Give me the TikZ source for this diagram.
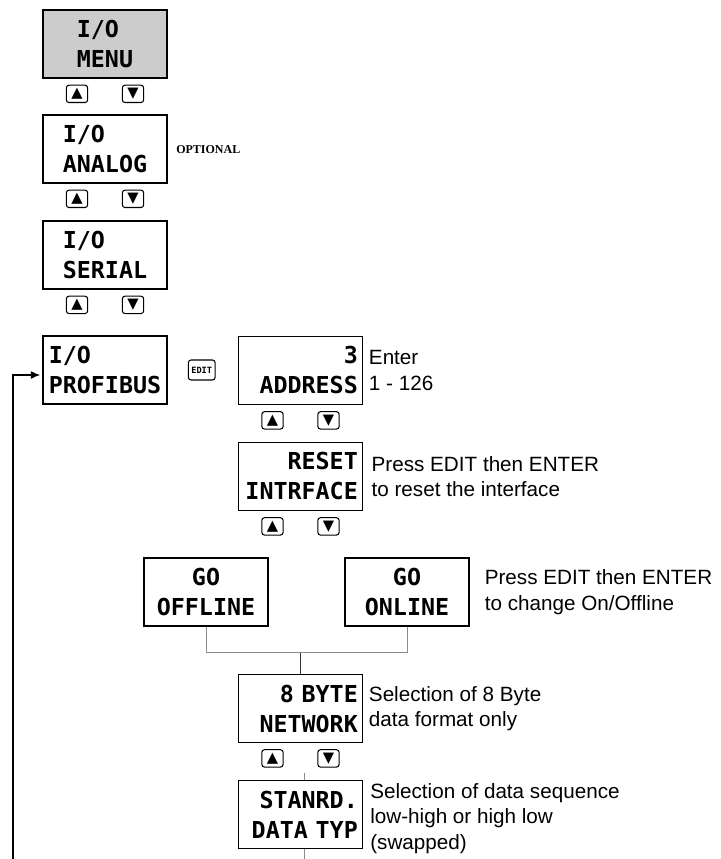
\documentclass[tikz,border=0pt]{standalone}
\usepackage{fontspec}
\usepackage{tikz}
\usetikzlibrary{
  arrows.meta,
  positioning,
  calc
}
\setmainfont{Liberation Sans}
\newfontfamily\lcdfont{DejaVu Sans Mono}
\newfontfamily\symfont{DejaVu Sans}
\newfontfamily\optfont{Liberation Serif}
\definecolor{ioMenu}{HTML}{CCCCCC}
\definecolor{ioWire}{HTML}{8C8C8C}
\tikzset{
  lcd/.style={
    draw, line width=1.3pt, minimum width=93pt, minimum height=51pt,
    inner xsep=3pt, font=\lcdfont\bfseries\fontsize{17.5}{22.5}\selectfont
  },
  lcdleft/.style={lcd, align=left},
  lcdright/.style={lcd, text width=86pt, align=right},
  lcdmid/.style={lcd, align=center},
  key/.style={
    draw, rounded corners=2pt, line width=0.8pt, minimum width=16pt,
    minimum height=13pt, inner sep=0pt, font=\symfont\fontsize{11}{11}\selectfont
  },
  editkey/.style={key, minimum width=20pt, minimum height=15pt, font=\lcdfont\bfseries\fontsize{6.5}{6.5}\selectfont},
  desc/.style={align=left, inner sep=0pt, font=\fontsize{15.5}{19}\selectfont},
  note/.style={inner sep=0pt, font=\optfont\bfseries\fontsize{9}{9}\selectfont},
  wire/.style={line width=0.6pt, ioWire},
  link/.style={line width=0.7pt, black!80},
  backline/.style={-{Latex[length=7pt,width=6pt]}, line width=0.9pt}
}
\begin{document}
\begin{tikzpicture}[x=0.75pt, y=-0.75pt]
  \useasboundingbox (0,0) rectangle (720,859);
  \node[lcdleft, fill=ioMenu] (menu) at (105,44) {I/O\\MENU};
  \node[lcdleft] (analog) at (105,149) {I/O\\ANALOG};
  \node[note, anchor=west] (optional) at (176,150) {OPTIONAL};
  \node[lcdleft] (serial) at (105,255) {I/O\\SERIAL};
  \node[lcdleft] (profibus) at (105,370) {I/O\\PROFIBUS};
  \node[editkey, right=15pt of profibus] (edit) {EDIT};
  \node[lcdright] (address) at (300.5,370.5) {3\\ADDRESS};
  \node[desc, right=4pt of address] (addressnote) {Enter\\1 - 126};
  \node[lcdright] (reset) at (300.5,476.5) {RESET\\INTRFACE};
  \node[desc, right=6pt of reset] (resetnote) {Press EDIT then ENTER\\to reset the interface};
  \node[lcdmid] (offline) at (206,592) {GO\\OFFLINE};
  \node[lcdmid] (online) at (407,592) {GO\\ONLINE};
  \node[desc, right=11pt of online] (onlinenote) {Press EDIT then ENTER\\to change On/Offline};
  \node[lcdright] (network) at (300.5,708.5) {8 BYTE\\NETWORK};
  \node[desc, right=4pt of network] (networknote) {Selection of 8 Byte\\data format only};
  \node[lcdright] (stanrd) at (300.5,814.5) {STANRD.\\DATA TYP};
  \node[desc, right=5pt of stanrd, yshift=-3pt] (stanrdnote) {Selection of data sequence\\low-high or high low\\(swapped)};

  \foreach \b in {menu,analog,serial,address,reset,network} {
    \node[key] (\b-up) at ($(\b.south)+(-28,15)$) {▲};
    \node[key] (\b-down) at ($(\b.south)+(28,15)$) {▼};
  }

  \coordinate (gojoin) at ($(offline.south)+(0,26)$);
  \draw[wire] (offline.south) -- (gojoin) -| (online.south);
  \draw[link] (network.north) -- (network.north |- gojoin);

  \coordinate (stanfoot) at ($(stanrd.south)+(4,11)$);
  \draw[wire] ($(stanrd.south)+(4,0)$) -- (stanfoot);
  \draw[wire] ($(stanrd.north)+(4,0)$) -- ++(0,-7);

  \coordinate (loopfoot) at (13,859);
  \draw[backline] (loopfoot) |- ($(profibus.west)+(-2,5)$);
\end{tikzpicture}
\end{document}
